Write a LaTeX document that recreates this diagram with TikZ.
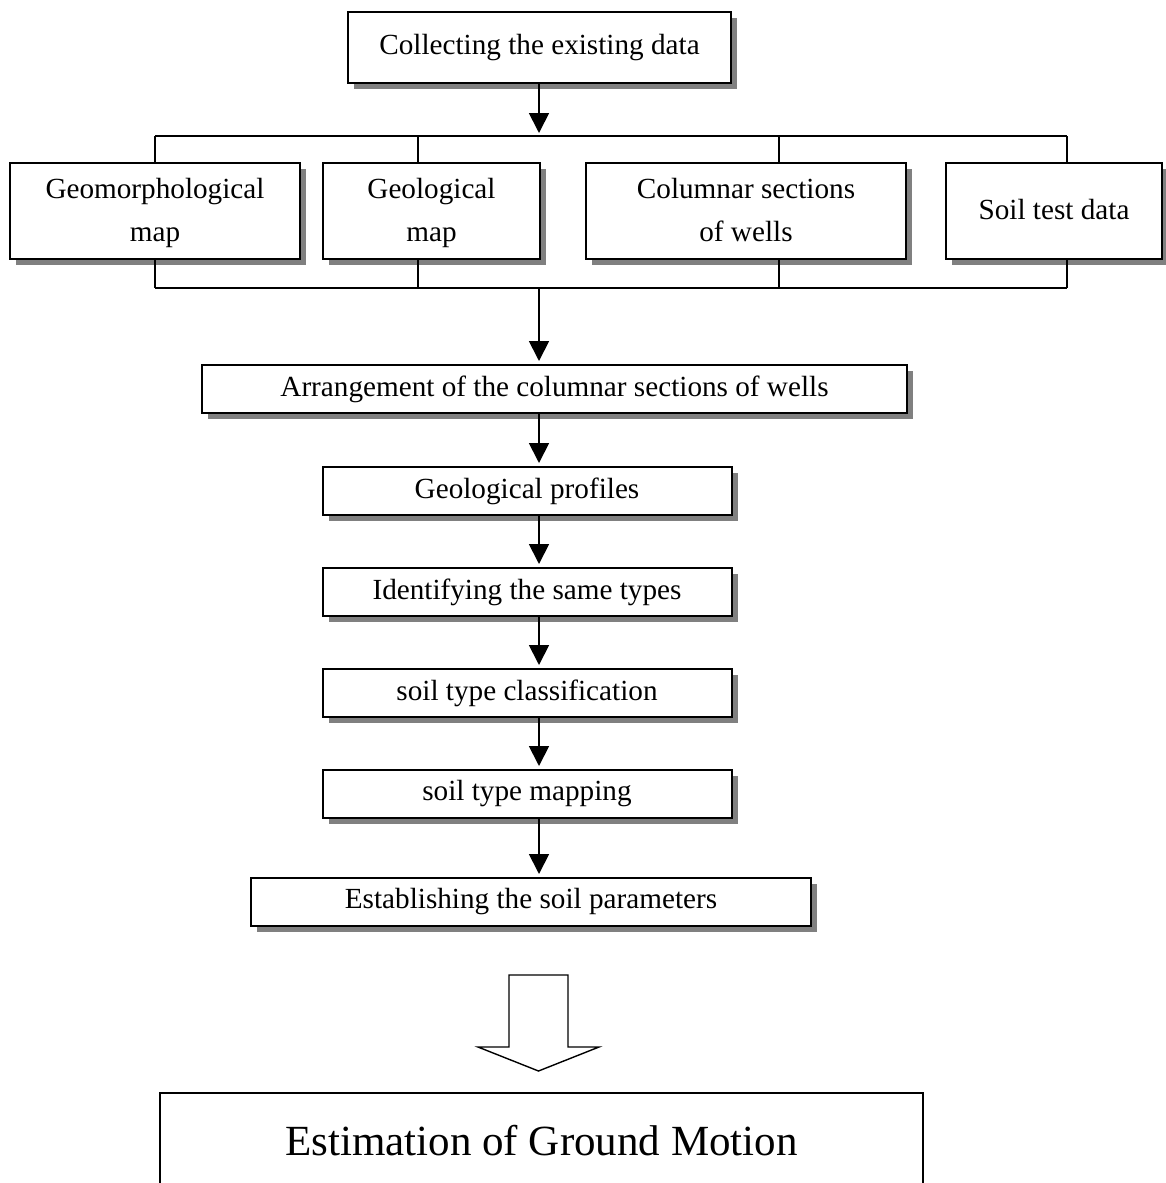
\documentclass[tikz,border=0pt]{standalone}
\usepackage{fontspec}
\setmainfont{Liberation Serif}
\usetikzlibrary{arrows.meta,shadows}

\tikzset{
  box/.style={draw, line width=1pt, fill=white, align=center,
    font=\fontsize{14.6}{21.5}\selectfont, inner sep=2pt,
    drop shadow={shadow xshift=3.2pt, shadow yshift=-3.2pt, fill=gray, opacity=1}},
  link/.style={line width=0.9pt},
  arr/.style={link, -{Triangle[width=10pt,length=10pt]}, shorten >=1.5pt}
}

\begin{document}
\begin{tikzpicture}[x=0.5pt,y=-0.5pt]
  \useasboundingbox (0,0) rectangle (1166,1183);

  % data sources
  \node[box, minimum width=191.5pt, minimum height=35.5pt] (collect) at (539.5,47.5) {Collecting the existing data};
  \node[box, minimum width=145pt, minimum height=48pt] (geomorph) at (155,211) {Geomorphological\strut\\map\strut};
  \node[box, minimum width=108.5pt, minimum height=48pt] (geolmap) at (431.5,211) {Geological\strut\\map\strut};
  \node[box, minimum width=160pt, minimum height=48pt] (columnar) at (746,211) {Columnar sections\strut\\of wells\strut};
  \node[box, minimum width=108pt, minimum height=48pt] (soiltest) at (1054,211) {Soil test data\strut};

  % processing steps
  \node[box, minimum width=352.5pt, minimum height=24pt] (arrange) at (554.5,389) {Arrangement of the columnar sections of wells};
  \node[box, minimum width=204.5pt, minimum height=24pt] (profiles) at (527,491) {Geological profiles};
  \node[box, minimum width=204.5pt, minimum height=24pt] (identify) at (527,592) {Identifying the same types};
  \node[box, minimum width=204.5pt, minimum height=24pt] (classify) at (527,693) {soil type classification};
  \node[box, minimum width=204.5pt, minimum height=24pt] (mapping) at (527,794) {soil type mapping};
  \node[box, minimum width=280pt, minimum height=24pt] (establish) at (531,902) {Establishing the soil parameters};

  \node[draw, line width=0.7pt, minimum width=381.5pt, minimum height=48pt,
        font=\fontsize{21.5}{25}\selectfont] (ground) at (541.5,1141) {Estimation of Ground Motion};

  % buses
  \coordinate (axis) at (539,0);
  \foreach \n/\x/\i in {geomorph/155/1, geolmap/418/2, columnar/779/3, soiltest/1067/4} {
    \coordinate (t\i) at (\x,136);
    \coordinate (b\i) at (\x,288);
    \draw[link] (t\i) -- (t\i |- \n.north);
    \draw[link] (\n.south -| b\i) -- (b\i);
  }
  \draw[link] (t1) -- (t4);
  \draw[link] (b1) -- (b4);
  \draw[arr] (collect.south -| axis) -- (t1 -| axis);
  \draw[arr] (b1 -| axis) -- (arrange.north -| axis);

  \foreach \a/\b in {arrange/profiles, profiles/identify, identify/classify,
                     classify/mapping, mapping/establish}
    \draw[arr] (\a.south -| axis) -- (\b.north -| axis);

  % hollow arrow
  \draw[line width=0.7pt] (509,975) -- (568,975) -- (568,1047) -- (599,1047)
    -- (538.5,1071) -- (478,1047) -- (509,1047) -- cycle;
\end{tikzpicture}
\end{document}
